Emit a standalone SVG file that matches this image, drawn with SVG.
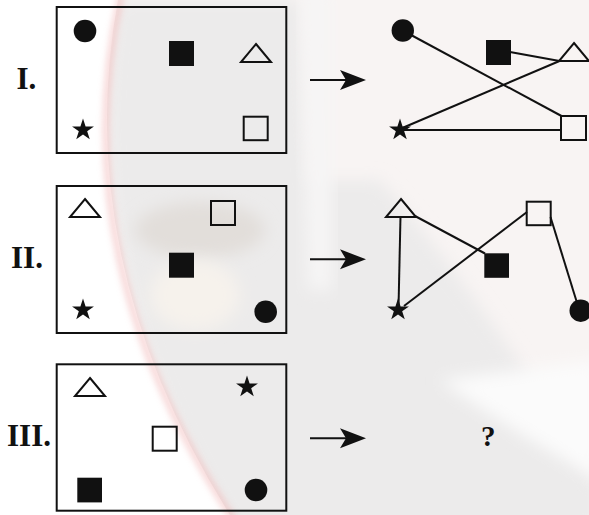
<svg xmlns="http://www.w3.org/2000/svg" width="589" height="515" viewBox="0 0 589 515">
<defs>
<style>
.box{fill:none;stroke:#111;stroke-width:2}
.hol{fill:none;stroke:#111;stroke-width:2}
.fil{fill:#111}
.ln{stroke:#111;stroke-width:2;fill:none}
.lbl{font-family:"Liberation Serif","Times New Roman",serif;font-weight:bold;font-size:31px;fill:#111}
.q{font-family:"Liberation Serif","Times New Roman",serif;font-weight:bold;font-size:29px;fill:#111}
</style>
<filter id="bl" x="-20%" y="-20%" width="140%" height="140%"><feGaussianBlur stdDeviation="8"/></filter>
<filter id="bl2" x="-20%" y="-20%" width="140%" height="140%"><feGaussianBlur stdDeviation="3"/></filter>
<path id="star" d="M0,-11.5 L2.59,-3.56 L10.94,-3.55 L4.18,1.36 L6.76,9.3 L0,4.4 L-6.76,9.3 L-4.18,1.36 L-10.94,-3.55 L-2.59,-3.56 Z"/>
<path id="tri" d="M0,-9 L15,9 L-15,9 Z"/>
<path id="ah" d="M0,0 L-26,-10 L-20,0 L-26,10 Z"/>
</defs>
<g id="background">
<rect width="589" height="515" fill="#f8f4f3"/>
<path d="M118 0 L300 0 L310 180 L380 180 Q470 280 600 485 L600 530 L230 530 Q70 260 118 0 Z" fill="#ecebeb" filter="url(#bl)"/>
<path d="M302 -10 L332 -10 L332 290 L308 290 Z" fill="#f6f5f5" filter="url(#bl)"/>
<path d="M440 380 Q510 430 600 480 L600 360 Z" fill="#fbfbfb" filter="url(#bl)"/>
<ellipse cx="200" cy="230" rx="65" ry="28" fill="#e2deda" filter="url(#bl)"/>
<ellipse cx="195" cy="295" rx="45" ry="35" fill="#f6f2ec" filter="url(#bl)"/>
<path d="M0 0 L118 0 Q70 260 230 515 L0 515 Z" fill="#ffffff"/>
<path d="M121 -5 Q62 260 234 520" stroke="#f0b0b0" stroke-width="7" fill="none" opacity="0.5" filter="url(#bl2)"/>
</g>
<g id="labels">
<text class="lbl" x="16.5" y="89">I.</text>
<text class="lbl" x="11" y="268">II.</text>
<text class="lbl" x="7" y="446">III.</text>
<text class="q" x="481" y="446">?</text>
</g>
<g id="boxes">
<rect id="box-I" class="box" x="56.7" y="7" width="229.6" height="146"/>
<rect id="box-II" class="box" x="56.7" y="186" width="229.6" height="147"/>
<rect id="box-III" class="box" x="56.7" y="364.3" width="229.6" height="146.4"/>
</g>
<g id="connectors">
<line class="ln" x1="402.7" y1="30.5" x2="561.5" y2="116"/>
<line class="ln" x1="510" y1="52" x2="559.5" y2="61"/>
<line class="ln" x1="559.5" y1="61" x2="400" y2="129"/>
<line class="ln" x1="400" y1="130" x2="561" y2="130"/>
<line class="ln" x1="400.5" y1="216" x2="398.5" y2="308"/>
<line class="ln" x1="415" y1="216" x2="485" y2="253.5"/>
<line class="ln" x1="404" y1="306" x2="527" y2="212"/>
<line class="ln" x1="550.5" y1="217" x2="578" y2="306"/>
<line class="ln" x1="310" y1="80" x2="348" y2="80"/>
<use href="#ah" x="366" y="80" class="fil"/>
<line class="ln" x1="310" y1="259.3" x2="348" y2="259.3"/>
<use href="#ah" x="366" y="259.3" class="fil"/>
<line class="ln" x1="310" y1="438.3" x2="348" y2="438.3"/>
<use href="#ah" x="366" y="438.3" class="fil"/>
</g>
<g id="I-left">
<circle class="fil" cx="85" cy="31" r="11.3"/>
<rect class="fil" x="169" y="41" width="25" height="25"/>
<use href="#tri" x="256" y="53" class="hol"/>
<use href="#star" x="83" y="130" class="fil"/>
<rect class="hol" x="243.7" y="116.7" width="24" height="23.5"/>
</g>
<g id="I-right">
<circle class="fil" cx="402.8" cy="30.5" r="11.2"/>
<rect class="fil" x="486" y="40" width="25" height="25"/>
<use href="#tri" x="574" y="52" class="hol"/>
<use href="#star" x="400" y="130" class="fil"/>
<rect class="hol" x="561" y="116" width="25" height="24"/>
</g>
<g id="II-left">
<use href="#tri" x="85" y="208" class="hol"/>
<rect class="hol" x="211" y="201" width="24" height="24"/>
<rect class="fil" x="169" y="252.7" width="25" height="25"/>
<use href="#star" x="83" y="310" class="fil"/>
<circle class="fil" cx="265.7" cy="311.7" r="11.3"/>
</g>
<g id="II-right">
<use href="#tri" x="401" y="208" class="hol"/>
<rect class="hol" x="526.7" y="201.7" width="24" height="23.5"/>
<rect class="fil" x="484.3" y="253.3" width="24.7" height="24.5"/>
<use href="#star" x="398" y="310" class="fil"/>
<circle class="fil" cx="580.7" cy="310.7" r="11.2"/>
</g>
<g id="III-left">
<use href="#tri" x="90" y="387" class="hol"/>
<use href="#star" x="247" y="387" class="fil"/>
<rect class="hol" x="152.7" y="426.7" width="24" height="24"/>
<rect class="fil" x="77.3" y="477.7" width="24.7" height="24.7"/>
<circle class="fil" cx="256" cy="490" r="11.3"/>
</g>
</svg>
